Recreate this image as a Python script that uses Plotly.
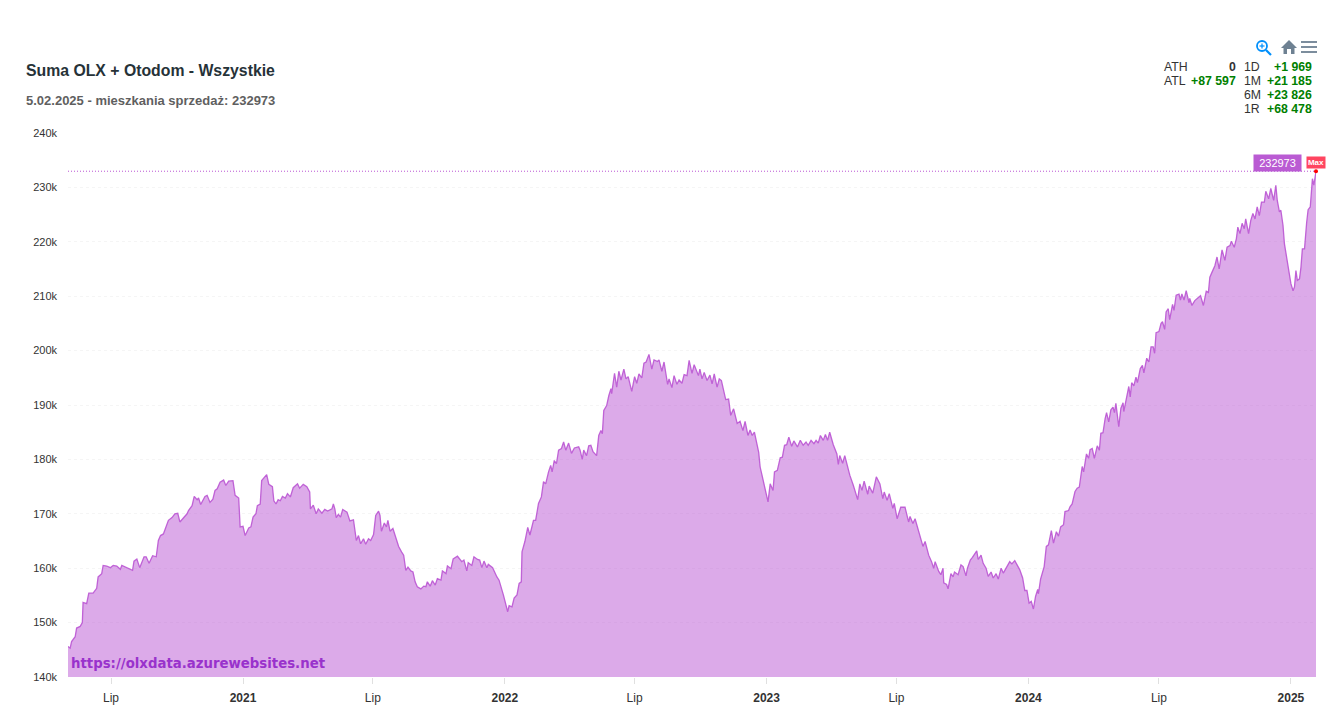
import pandas as pd
import plotly.graph_objects as go

START = pd.Timestamp("2020-05-02")

days_a = [0,3,5,10,12,17,20,21,26,29,35,40,42,47,49,54,59,63,68,73,75,82,90,92,96,100,106,109,113,118,123,126,129,133,140,145,149,153,156,166,168,173,176,180,182,185,191,194,198,202,205,208,212,217,220,224,230,233,238,240,244,247,252,255,258,262,264,268,270,277,280,285,287,290,293,296]
vals_a = [145.6,145.3,146.5,147.4,149.0,149.3,150.0,153.7,153.5,155.4,155.4,156.3,158.4,159.0,160.5,160.4,160.1,160.5,160.4,159.8,160.5,160.1,159.6,161.3,161.7,160.1,162.1,162.1,160.9,162.3,162.1,165.1,166.0,166.3,168.8,169.3,170.0,170.1,168.5,170.0,170.6,171.5,173.2,172.6,172.9,171.7,173.2,173.4,172.1,172.7,174.3,174.6,175.8,176.2,175.2,176.0,176.1,173.4,172.9,167.6,167.7,166.0,167.4,167.6,169.4,170.0,171.5,171.8,176.1,177.2,175.4,175.0,172.4,171.8,172.6,172.4]

days_b = [299,303,306,310,314,320,323,328,333,337,338,342,346,349,354,358,362,368,370,372,374,377,380,383,389,393,398,402,405,408,412,415,419,422,426,429,433,435,437,441,444,446,449,453,458,461,465,468,471,474,478,481,484,487,492,496,499,501,505,508,512,515,520,522,527,529,534,537,543,549,552,556,558,563,566,571,574,577,580,584,586,592,598,601]
vals_b = [173.2,172.9,173.7,173.1,174.8,175.5,174.7,175.4,175.0,174.0,170.9,171.6,170.0,170.9,170.1,170.8,170.5,170.9,171.8,170.9,169.3,169.9,169.4,170.8,170.3,168.7,168.9,165.1,166.0,164.5,165.4,164.4,165.4,165.1,166.2,169.7,170.5,169.7,166.8,168.3,167.6,168.8,166.8,167.3,165.4,164.0,163.0,162.4,159.6,160.2,159.5,159.3,157.5,156.6,156.2,156.7,156.6,157.5,156.7,157.7,156.9,158.1,157.8,159.5,159.0,160.4,159.9,161.7,162.2,161.2,161.5,159.5,161.0,160.5,162.1,161.6,161.5,160.1,161.3,160.1,160.7,160.1,158.4,157.8]

days_c = [607,613,615,619,622,626,629,632,633,637,641,644,649,652,656,660,663,666,670,673,675,678,681,684,688,691,694,698,702,706,712,714,717,719,723,726,729,732,737,740,743,745,747,751,754,757,758,762,765,768,771,775,778,781,786,790,793,796,800,803,806,810,814,817,822,824,828,831,836,838,842,845,849,852,856,859,863,866,870,873,879,881,884,887,891,895,898,901,905,908,911,915,917,921,924,928,933,937,941,944,948]
vals_c = [155.1,152.0,153.1,152.9,154.5,155.1,157.2,157.5,163.0,164.9,167.5,166.1,168.8,168.8,171.9,173.1,175.9,175.5,177.7,178.9,177.7,179.8,179.2,181.7,182.0,183.2,181.7,183.0,181.1,182.1,182.3,181.7,180.0,181.7,180.7,182.5,182.6,181.4,180.7,184.4,185.3,184.7,189.0,189.9,191.7,193.0,192.1,195.8,193.3,196.2,194.6,196.6,194.8,195.2,192.5,195.2,194.0,195.7,195.0,197.7,197.9,199.3,196.6,198.3,198.0,198.3,196.2,197.9,193.8,194.8,193.2,195.4,193.8,194.6,194.0,195.6,195.4,198.2,195.8,197.4,195.4,196.6,194.8,196.0,194.5,195.5,193.9,195.7,193.3,194.8,194.5,192.4,191.0,191.1,188.1,189.3,186.6,187.0,185.3,187.0,184.4]

days_d = [951,954,957,963,965,969,972,976,979,983,985,989,993,996,999,1002,1005,1009,1012,1017,1021,1025,1029,1032,1036,1040,1043,1046,1049,1053,1056,1059,1062,1067,1072,1074,1076,1080,1083,1087,1090,1095,1101,1104,1107,1110,1115,1117,1122,1127,1132,1136,1138,1142,1145,1150,1152,1156,1161,1167,1172,1174,1178,1181,1188,1192,1195,1200,1204,1207,1209,1214,1217,1220,1221,1225,1227,1231,1234,1236,1241,1245,1248,1252,1254,1258,1261,1267,1269,1273,1276,1280,1283,1287,1290,1294,1297,1301,1304,1309,1313,1316,1320]
vals_d = [185.4,184.4,185.0,181.3,178.6,176.2,174.6,172.2,175.5,174.3,177.7,178.0,180.3,180.4,182.6,182.7,184.1,182.4,183.4,182.3,183.5,182.6,183.2,182.6,183.5,182.9,183.5,183.0,184.4,183.5,184.6,183.5,185.0,182.7,181.0,179.1,180.7,179.3,180.7,178.6,177.1,175.2,172.6,175.5,174.3,176.0,173.6,175.1,173.8,176.8,175.5,172.8,174.0,172.5,173.7,171.0,171.9,169.1,171.2,171.2,168.5,169.5,168.2,169.1,165.8,164.0,164.9,162.4,161.2,160.0,161.2,159.4,158.8,160.0,157.3,157.0,156.2,159.0,158.4,159.3,158.8,160.6,160.3,158.6,160.0,161.5,162.0,163.2,161.6,162.4,160.9,160.0,158.5,159.3,158.2,159.0,158.0,160.0,159.1,160.3,161.2,160.8,161.4]

days_e = [1327,1331,1334,1337,1340,1343,1346,1349,1352,1353,1356,1359,1361,1364,1367,1371,1374,1378,1381,1384,1388,1390,1395,1397,1400,1404,1407,1410,1412,1414,1416,1420,1423,1425,1428,1431,1435,1438,1440,1443,1446,1448,1451,1454,1457,1459,1461,1465,1468,1471,1472,1476,1479,1481,1483,1486,1489,1491,1495,1498,1500,1504,1507,1510,1513,1515,1517,1521,1524,1526,1529,1531,1534,1536,1540,1542,1545,1549,1551,1553,1556,1559,1563,1564]
vals_e = [159.7,158.2,155.9,155.9,153.6,153.9,152.5,154.8,156.1,155.3,158.0,159.6,160.3,164.0,164.3,166.9,164.6,166.7,165.9,167.6,168.0,170.4,170.6,171.3,171.8,174.1,174.7,174.9,176.8,178.7,177.7,181.0,180.2,181.8,182.0,180.2,182.5,181.7,184.8,184.9,187.5,188.6,186.9,189.1,189.6,188.6,190.3,186.0,189.4,190.4,188.8,191.5,193.4,191.5,194.1,193.5,195.1,194.1,196.7,197.3,195.9,198.6,197.9,200.7,200.7,199.5,203.3,203.5,205.0,205.3,203.9,207.1,207.7,205.7,208.5,207.4,210.2,210.4,209.3,210.4,209.3,211.0,208.8,209.6]

days_f = [1567,1571,1576,1579,1583,1587,1590,1592,1596,1599,1602,1605,1609,1613,1616,1620,1622,1626,1629,1631,1634,1637,1640,1642,1646,1649,1652,1655,1658,1661,1664,1668,1670,1674,1677,1681,1684,1686,1689,1691,1694,1696,1699,1702,1705,1708,1710,1712,1714,1717,1719,1721,1724,1727,1729,1732,1734,1735,1737,1740]
vals_f = [208.3,209.2,209.8,210.1,208.3,210.9,210.7,213.5,214.7,215.6,217.2,215.0,218.5,216.6,219.0,219.3,220.1,219.0,220.6,222.7,221.5,223.4,222.4,224.2,221.5,223.9,225.2,224.2,226.4,224.8,227.3,227.3,229.3,227.9,229.8,227.6,230.4,227.6,225.5,225.8,223.0,219.6,217.2,214.7,212.3,211.0,211.7,214.7,212.9,213.2,215.3,218.7,218.7,223.6,225.9,226.4,230.4,231.6,230.4,232.973]

x_tick_dates = ["2020-07-01","2021-01-01","2021-07-01","2022-01-01","2022-07-01","2023-01-01","2023-07-01","2024-01-01","2024-07-01","2025-01-01"]
x_tick_text = ["Lip","<b>2021</b>","Lip","<b>2022</b>","Lip","<b>2023</b>","Lip","<b>2024</b>","Lip","<b>2025</b>"]
y_tick_vals = [140000,150000,160000,170000,180000,190000,200000,210000,220000,230000,240000]
y_tick_text = ["140k","150k","160k","170k","180k","190k","200k","210k","220k","230k","240k"]

TITLE = "Suma OLX + Otodom - Wszystkie"
SUBTITLE = "5.02.2025 - mieszkania sprzedaż: 232973"
WATERMARK = "https://olxdata.azurewebsites.net"
stats_left = [("ATH", "0"), ("ATL", "+87 597")]
stats_right = [("1D", "+1 969"), ("1M", "+21 185"), ("6M", "+23 826"), ("1R", "+68 478")]

days = days_a + days_b + days_c + days_d + days_e + days_f
vals = vals_a + vals_b + vals_c + vals_d + vals_e + vals_f
assert len(days) == len(vals)
dates = [START + pd.Timedelta(days=d) for d in days]
values = [round(v * 1000) for v in vals]
max_value = max(values)

W, H = 1334, 713
L, R, T, B = 68, 1316, 133, 677
FONT = "Liberation Sans"
PURPLE = "#ba55d3"

def px(x):
    return (x - L) / (R - L)

def py(y):
    return (B - y) / (B - T)

fig = go.Figure()
fig.add_trace(go.Scatter(
    x=dates, y=values, mode="lines", fill="tozeroy",
    fillcolor="rgba(186,85,211,0.5)",
    line=dict(color="rgba(186,85,211,0.9)", width=1.3),
    hoverinfo="x+y", showlegend=False,
))
fig.add_trace(go.Scatter(
    x=[dates[-1]], y=[values[-1]], mode="markers",
    marker=dict(color="#ff0000", size=4), cliponaxis=False,
    hoverinfo="skip", showlegend=False,
))

annotations = []

def text(x, y, s, size=12, color="#333333", anchor="left", family=FONT):
    annotations.append(dict(
        xref="paper", yref="paper", x=px(x), y=py(y), text=s, showarrow=False,
        xanchor=anchor, yanchor="middle", align=anchor,
        font=dict(family=family, size=size, color=color), borderpad=0))

text(25, 71, f"<b>{TITLE}</b>", size=15.8, color="#263238")
text(25, 100, f"<b>{SUBTITLE}</b>", size=13, color="#5f5f5f")
text(70, 663, f"<b>{WATERMARK}</b>", size=13.3, color="#9932cc", family="DejaVu Sans")

for i, (k, v) in enumerate(stats_left):
    y = 67 + 14 * i
    text(1163, y, k, size=12.3, color="#333333")
    text(1237, y, f"<b>{v}</b>", size=12.3, color="#333333" if v == "0" else "#008000", anchor="right")
for i, (k, v) in enumerate(stats_right):
    y = 67 + 14 * i
    text(1243, y, k, size=12.3, color="#333333")
    text(1312.5, y, f"<b>{v}</b>", size=12.3, color="#008000", anchor="right")

# value label and Max badge attached to the last point
annotations.append(dict(
    xref="paper", yref="y", x=px(1277.5), y=max_value, yshift=8, text=str(max_value),
    showarrow=False, xanchor="center", yanchor="middle", bgcolor="#ba5bd3", width=47, height=16,
    font=dict(family=FONT, size=11, color="#ffffff"), borderpad=0))
annotations.append(dict(
    xref="paper", yref="y", x=px(1316), y=max_value, yshift=9, text="<b>Max</b>",
    showarrow=False, xanchor="center", yanchor="middle", bgcolor="#ff4560", width=18, height=11,
    font=dict(family=FONT, size=8, color="#ffffff"), borderpad=0))

shapes = [dict(type="line", xref="paper", yref="y", x0=0, x1=1, y0=max_value, y1=max_value,
               line=dict(color=PURPLE, width=1, dash="1px,2px"), layer="above")]

def icon_path(path_pts, **kw):
    d = " ".join(f"{c}{px(x)},{py(y)}" if c != "Z" else "Z" for c, x, y in path_pts)
    shapes.append(dict(type="path", xref="paper", yref="paper", path=d, **kw))

# magnifier
shapes.append(dict(type="circle", xref="paper", yref="paper", x0=px(1257), x1=px(1267), y0=py(51), y1=py(41),
                   line=dict(color="#008ffb", width=1.8)))
shapes.append(dict(type="line", xref="paper", yref="paper", x0=px(1266), x1=px(1271), y0=py(50), y1=py(55),
                   line=dict(color="#008ffb", width=2.2)))
shapes.append(dict(type="line", xref="paper", yref="paper", x0=px(1259.5), x1=px(1264.5), y0=py(46), y1=py(46),
                   line=dict(color="#008ffb", width=1.2)))
shapes.append(dict(type="line", xref="paper", yref="paper", x0=px(1262), x1=px(1262), y0=py(43.5), y1=py(48.5),
                   line=dict(color="#008ffb", width=1.2)))
# home
icon_path([("M",1281,48),("L",1289,40),("L",1297,48),("L",1294.5,48),("L",1294.5,54),("L",1291,54),("L",1291,49),("L",1287,49),("L",1287,54),("L",1283.5,54),("L",1283.5,48),("Z",0,0)],
          fillcolor="#6e8192", line=dict(width=0))
# menu
for y in (42, 47, 52):
    shapes.append(dict(type="rect", xref="paper", yref="paper", x0=px(1301), x1=px(1317), y0=py(y - 0.9), y1=py(y + 0.9),
                       fillcolor="#6e8192", line=dict(width=0)))

fig.update_layout(
    width=W, height=H, autosize=False,
    margin=dict(l=L, r=W - R, t=T, b=H - B, pad=0, autoexpand=False),
    paper_bgcolor="#ffffff", plot_bgcolor="#ffffff",
    font=dict(family=FONT, size=11, color="#373d3f"),
    hovermode="x", showlegend=False,
    annotations=annotations, shapes=shapes,
    xaxis=dict(
        type="date", range=[START, START + pd.Timedelta(days=1740)],
        tickmode="array", tickvals=x_tick_dates, ticktext=x_tick_text,
        ticks="outside", ticklen=6, tickcolor="#e0e0e0", tickwidth=1,
        showgrid=False, showline=False, automargin=False,
        ticklabelstandoff=4,
        tickfont=dict(family=FONT, size=12, color="#333333"), zeroline=False,
    ),
    yaxis=dict(
        range=[140000, 240000], tickmode="array", tickvals=y_tick_vals, ticktext=y_tick_text,
        ticks="", showgrid=True, gridcolor="#f5f5f5", griddash="dot", gridwidth=1,
        showline=False, zeroline=False, ticklabelstandoff=10, automargin=False,
        tickfont=dict(family=FONT, size=11, color="#333333"),
    ),
)

fig.write_html("out.html", config={"displayModeBar": False},
               post_script="document.body.style.margin='0';")
